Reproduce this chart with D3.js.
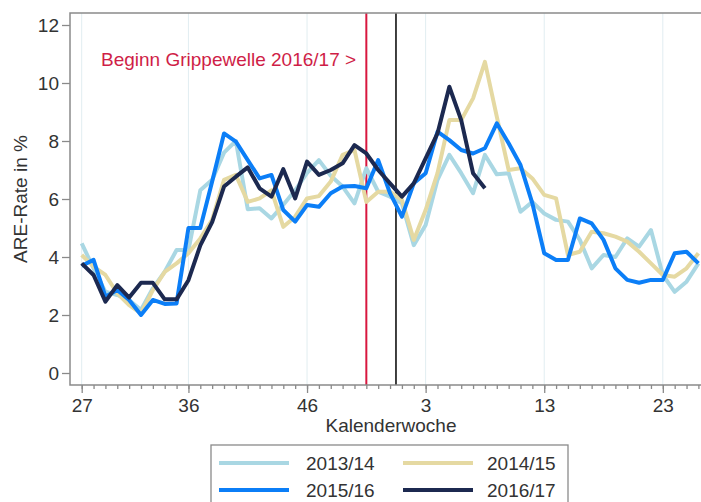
<!DOCTYPE html>
<html>
<head>
<meta charset="utf-8">
<script src="https://cdn.jsdelivr.net/npm/d3@7/dist/d3.min.js"></script>
<style>
body { margin: 0; background: #fff; }
svg { display: block; font-family: "Liberation Sans", Arial, sans-serif; }
</style>
</head>
<body>
<svg></svg>
<script>
// Kalenderwochen 27..53, 1..26 (one index per week)
var weeks = [27,28,29,30,31,32,33,34,35,36,37,38,39,40,41,42,43,44,45,46,47,48,49,50,51,52,53,
  1,2,3,4,5,6,7,8,9,10,11,12,13,14,15,16,17,18,19,20,21,22,23,24,25,26];
var labelWeeks = [27, 36, 46, 3, 13, 23];
var yTicks = [0, 2, 4, 6, 8, 10, 12];
var seasons = ["2013/14", "2014/15", "2015/16", "2016/17"];

var s1314 = [4.47,3.61,2.8,2.69,2.52,2.17,2.92,3.49,4.24,4.24,6.3,6.66,7.6,8.0,5.65,5.68,5.33,5.8,6.3,6.9,
  7.34,6.8,6.43,5.85,7.06,6.25,6.08,5.85,4.41,5.1,6.66,7.52,6.89,6.2,7.52,6.85,6.89,5.56,5.9,5.5,
  5.28,5.22,4.59,3.61,4.07,4.0,4.64,4.36,4.93,3.38,2.8,3.15,3.78];
var s1415 = [4.07,3.67,3.38,2.75,2.34,2.06,2.86,3.49,3.78,4.13,4.64,5.28,6.66,6.83,5.9,6.02,6.3,5.04,5.39,6.02,
  6.1,6.6,7.52,7.69,5.9,6.25,6.25,5.97,4.59,5.62,6.89,8.72,8.72,9.47,10.73,8.84,7.0,7.06,6.71,6.14,
  6.02,4.07,4.18,4.87,4.82,4.7,4.53,4.18,3.78,3.38,3.32,3.61,4.13];
var s1516 = [3.7,3.9,2.63,2.86,2.52,2.0,2.52,2.38,2.4,5.0,5.0,6.6,8.26,7.98,7.34,6.71,6.83,5.62,5.22,5.79,
  5.73,6.2,6.43,6.45,6.37,7.34,6.2,5.39,6.54,6.89,8.32,8.03,7.69,7.57,7.75,8.61,7.92,7.17,5.85,4.13,
  3.9,3.9,5.33,5.16,4.59,3.61,3.21,3.11,3.21,3.21,4.13,4.18,3.78];
var s1617 = [3.78,3.38,2.46,3.03,2.6,3.11,3.11,2.54,2.54,3.2,4.4,5.2,6.43,6.77,7.09,6.37,6.08,7.03,6.02,7.29,
  6.83,7.0,7.23,7.86,7.57,7.0,6.54,6.08,6.54,7.4,8.26,9.87,8.72,6.89,6.37];

var colors = ["#a9d7e3", "#e5d9a2", "#0b7ef7", "#1c2950"];
var allSeries = [s1314, s1415, s1516, s1617];

var startWeek = 51;          // Beginn Grippewelle
var yearBreak = 26.5;        // between KW 53 and KW 1

var plot = { left: 70, right: 712, top: 13, bottom: 385 };

var svg = d3.select("svg").attr("width", 701).attr("height", 502);
svg.append("rect").attr("width", 701).attr("height", 502).attr("fill", "#fff");

var xScale = d3.scaleLinear().domain([0, weeks.length - 1]).range([81.7, 698.4]);
var yScale = d3.scaleLinear().domain([0, 12]).range([373, 25]);

var majorIdx = labelWeeks.map(function(w){ return w >= 27 ? weeks.indexOf(w) : weeks.lastIndexOf(w) });

// faint vertical grid at labelled weeks
svg.append("g").selectAll("line")
.data(majorIdx)
.enter()
.append("line")
.attr("x1", function(d){ return xScale(d) })
.attr("x2", function(d){ return xScale(d) })
.attr("y1", plot.top)
.attr("y2", plot.bottom)
.style("stroke", "#e1edf1")
.style("stroke-width", 1)

// marker lines
svg.append("line")
.attr("x1", xScale(weeks.indexOf(startWeek))).attr("x2", xScale(weeks.indexOf(startWeek)))
.attr("y1", plot.top).attr("y2", plot.bottom)
.style("stroke", "#d8173f").style("stroke-width", 2)

svg.append("line")
.attr("x1", xScale(yearBreak)).attr("x2", xScale(yearBreak))
.attr("y1", plot.top).attr("y2", plot.bottom)
.style("stroke", "#111").style("stroke-width", 1.6)

// series lines
var line = d3.line()
.x(function(d, i){ return xScale(i) })
.y(function(d){ return yScale(d) })

svg.append("g").selectAll("path")
.data(allSeries)
.enter()
.append("path")
.attr("d", function(d){ return line(d) })
.style("fill", "none")
.style("stroke", function(d, i){ return colors[i] })
.style("stroke-width", 4)
.style("stroke-linejoin", "round")

// annotation
svg.append("text")
.attr("x", 101)
.attr("y", 66)
.style("font-size", "19px")
.style("fill", "#cf1e47")
.text("Beginn Grippewelle 2016/17 >")

// frame (left + top + bottom)
svg.append("path")
.attr("d", "M" + plot.right + "," + plot.top + "H" + plot.left + "V" + plot.bottom + "H" + plot.right)
.style("fill", "none")
.style("stroke", "#8a8a8a")
.style("stroke-width", 1.5)

// x axis: minor ticks every week, major ticks with labels
var xMinor = d3.axisBottom(xScale).tickValues(d3.range(weeks.length)).tickSize(4).tickFormat("")
var xMinorG = svg.append("g").attr("transform", "translate(0," + plot.bottom + ")").call(xMinor)

var xMajor = d3.axisBottom(xScale).tickValues(majorIdx).tickSize(8).tickPadding(6)
.tickFormat(function(d){ return weeks[d] })
var xMajorG = svg.append("g").attr("transform", "translate(0," + plot.bottom + ")").call(xMajor)

var yAxis = d3.axisLeft(yScale).tickValues(yTicks).tickSize(8).tickPadding(3)
var yAxisG = svg.append("g").attr("transform", "translate(" + plot.left + ",0)").call(yAxis)

svg.selectAll(".domain").remove()
svg.selectAll(".tick line").style("stroke", "#8a8a8a").style("stroke-width", 1.3)
svg.selectAll(".tick text").style("font-size", "19px").style("fill", "#333").style("font-family", "Liberation Sans, Arial, sans-serif")

// axis titles
svg.append("text")
.attr("x", 391)
.attr("y", 432)
.attr("text-anchor", "middle")
.style("font-size", "19px")
.style("fill", "#333")
.text("Kalenderwoche")

svg.append("text")
.attr("transform", "translate(27,199) rotate(-90)")
.attr("text-anchor", "middle")
.style("font-size", "19px")
.style("fill", "#333")
.text("ARE-Rate in %")

// legend
var legend = svg.append("g")
legend.append("rect")
.attr("x", 211).attr("y", 445).attr("width", 357).attr("height", 70)
.style("fill", "#fff").style("stroke", "#8a8a8a").style("stroke-width", 1.3)

var legendItems = legend.selectAll("g.item")
.data(seasons)
.enter()
.append("g")
.attr("class", "item")
.attr("transform", function(d, i){ return "translate(" + (i % 2 == 0 ? 219 : 403) + "," + (i < 2 ? 463 : 490) + ")" })

legendItems.append("line")
.attr("x1", 0).attr("x2", 70).attr("y1", 0).attr("y2", 0)
.style("stroke", function(d, i){ return colors[i] })
.style("stroke-width", 4)

legendItems.append("text")
.attr("x", function(d, i){ return i % 2 == 0 ? 87 : 84 })
.attr("y", 7)
.style("font-size", "19px")
.style("fill", "#333")
.text(function(d){ return d })
</script>
</body>
</html>
